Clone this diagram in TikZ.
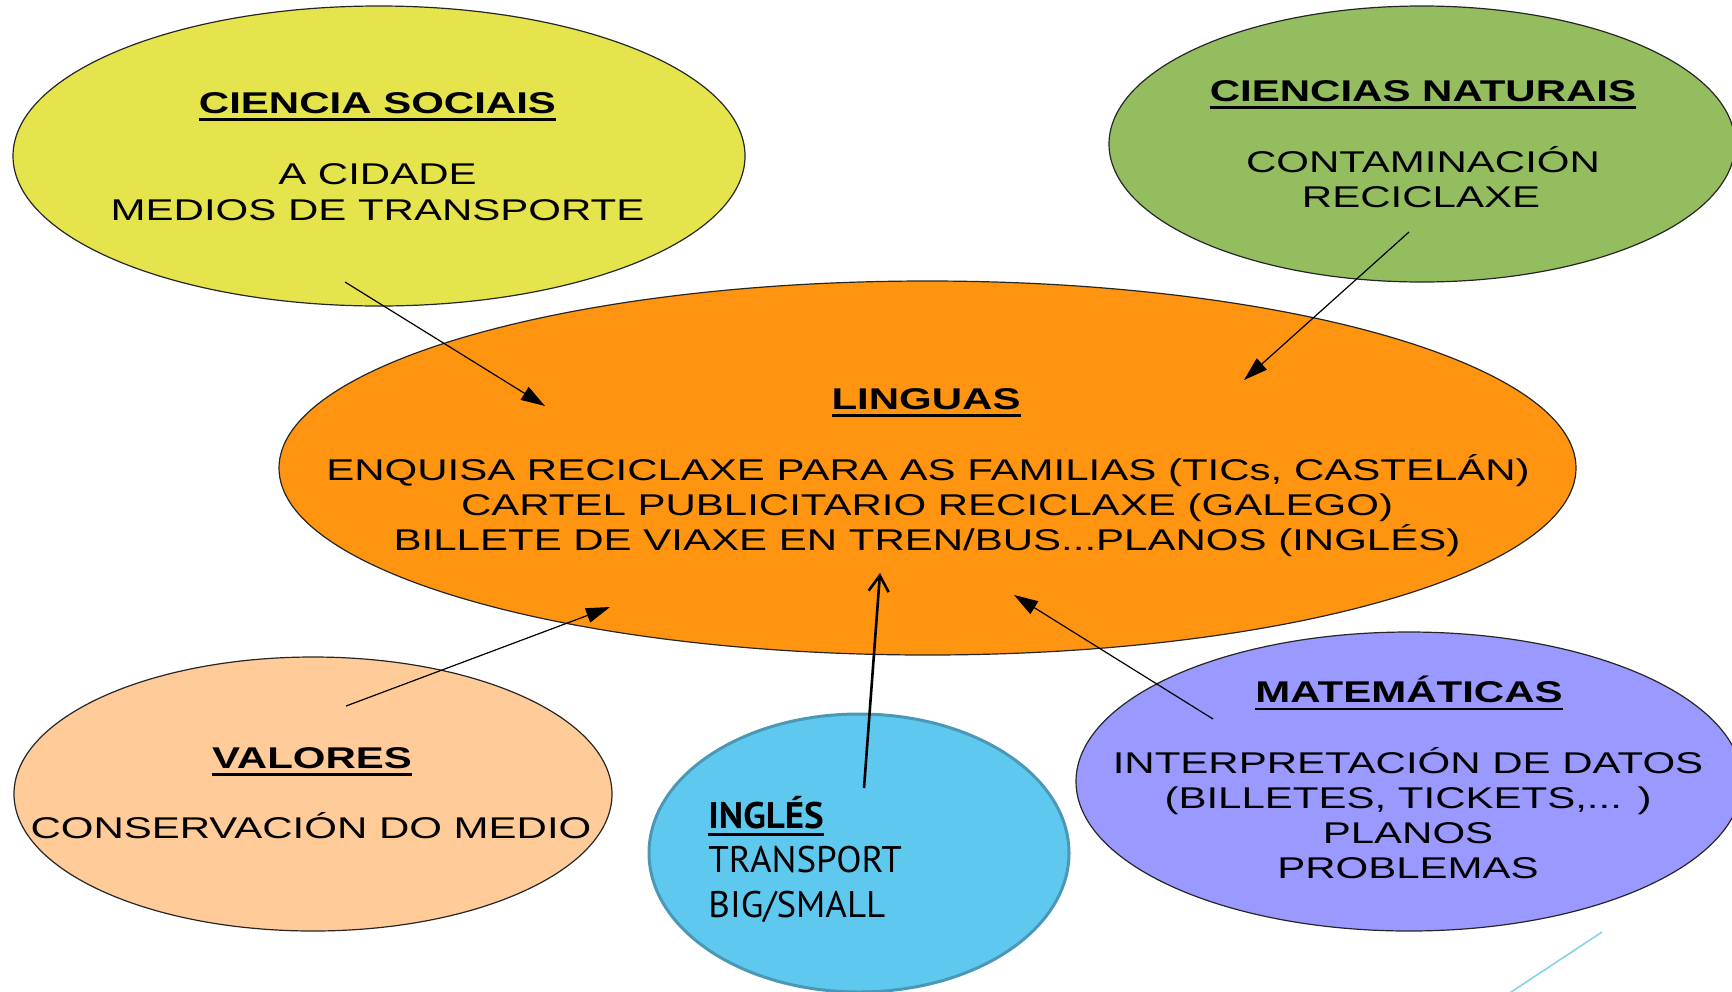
\documentclass[tikz,border=0pt]{standalone}
\usepackage{fontspec}
\usetikzlibrary{shapes.geometric,arrows.meta}
\newfontfamily\arw[FakeStretch=1.40]{Liberation Sans}
\newfontfamily\ptf{PT Sans}
\definecolor{cyel}{RGB}{230,228,76}
\definecolor{cgrn}{RGB}{147,189,95}
\definecolor{corg}{RGB}{255,148,16}
\definecolor{cpch}{RGB}{255,204,153}
\definecolor{cpur}{RGB}{153,153,255}
\definecolor{cblu}{RGB}{94,200,238}
\definecolor{cblb}{RGB}{74,152,182}
\definecolor{cdec}{RGB}{130,210,240}
\newsavebox\ulbox
\newcommand\ulx[3]{\sbox\ulbox{#3}\rlap{\raisebox{#1}{\rule{\wd\ulbox}{#2}}}\usebox\ulbox}
\tikzset{
  blob/.style={ellipse, draw=black!85, line width=0.6pt, inner sep=0pt, outer sep=0pt},
  ln/.style={anchor=base, inner sep=0pt, font=\arw\fontsize{15}{17.75}\selectfont},
  hd/.style={anchor=base, inner sep=0pt, font=\arw\bfseries\fontsize{15}{17.75}\selectfont},
  il/.style={anchor=base west, inner sep=0pt, font=\ptf\fontsize{18.5}{22.25}\selectfont},
  con/.style={line width=0.6pt, -{Triangle[length=12pt,width=7.5pt]}},
  cont/.style={line width=1.3pt, -{Straight Barb[length=8pt,width=10pt]}},
}
\begin{document}
\begin{tikzpicture}[x=0.5pt,y=-0.5pt]
\useasboundingbox (0,0) rectangle (1732,991);
\clip (0,0) rectangle (1732,991);
% ellipses
\node[blob, fill=cyel, minimum width=732pt*0.5, minimum height=300pt*0.5] (soc) at (379,156) {};
\node[blob, fill=cgrn, minimum width=626pt*0.5, minimum height=276pt*0.5] (nat) at (1422,144) {};
\node[blob, fill=corg, minimum width=1297pt*0.5, minimum height=374pt*0.5] (ling) at (927.5,468) {};
\node[blob, fill=cpch, minimum width=598pt*0.5, minimum height=274pt*0.5] (val) at (313,794) {};
\node[blob, fill=cpur, minimum width=666pt*0.5, minimum height=299pt*0.5] (mat) at (1409,781.5) {};
\node[ellipse, draw=cblb, line width=1.5pt, fill=cblu, inner sep=0pt, minimum width=420pt*0.5, minimum height=278pt*0.5] (ing) at (859,853) {};
% texts
\node[hd] (soc1) at (377.5,113) {\ulx{-3.75pt}{1.1pt}{CIENCIA SOCIAIS}};
\node[ln] (soc2) at (377.5,184.5) {A CIDADE};
\node[ln] (soc3) at (377.5,220) {MEDIOS DE TRANSPORTE};
\node[hd] (nat1) at (1423,101) {\ulx{-3.75pt}{1.1pt}{CIENCIAS NATURAIS}};
\node[ln] (nat2) at (1423,172) {CONTAMINACIÓN};
\node[ln] (nat3) at (1421,207) {RECICLAXE};
\node[hd] (ling1) at (926,409) {\ulx{-3.75pt}{1.1pt}{LINGUAS}};
\node[ln] (ling2) at (928,480) {ENQUISA RECICLAXE PARA AS FAMILIAS (TICs, CASTELÁN)};
\node[ln] (ling3) at (927,515) {CARTEL PUBLICITARIO RECICLAXE (GALEGO)};
\node[ln] (ling4) at (927,550) {BILLETE DE VIAXE EN TREN/BUS...PLANOS (INGLÉS)};
\node[hd] (val1) at (312,768) {\ulx{-3.75pt}{1.1pt}{VALORES}};
\node[ln] (val2) at (311,838.5) {CONSERVACIÓN DO MEDIO};
\node[hd] (mat1) at (1409,702.5) {\ulx{-3.75pt}{1.1pt}{MATEMÁTICAS}};
\node[ln] (mat2) at (1408,773) {INTERPRETACIÓN DE DATOS};
\node[ln] (mat3) at (1408,808) {(BILLETES, TICKETS,... )};
\node[ln] (mat4) at (1408,843) {PLANOS};
\node[ln] (mat5) at (1408,878) {PROBLEMAS};
\node[il, font=\ptf\bfseries\fontsize{18.5}{22.25}\selectfont] (ing1) at (708,828) {\ulx{-4pt}{1.5pt}{INGLÉS}};
\node[il] (ing2) at (708,872) {TRANSPORT};
\node[il] (ing3) at (708,917) {BIG/SMALL};
% connector end points
\coordinate (a1s) at (345,282);
\coordinate (a1e) at (545,406);
\coordinate (a2s) at (1409,232);
\coordinate (a2e) at (1244,380);
\coordinate (a3s) at (346,706);
\coordinate (a3e) at (610,607);
\coordinate (a4s) at (864,788);
\coordinate (a4e) at (880,573);
\coordinate (a5s) at (1213,719);
\coordinate (a5e) at (1014,595);
\draw[con] (a1s) -- (a1e);
\draw[con] (a2s) -- (a2e);
\draw[con] (a3s) -- (a3e);
\draw[cont] (a4s) -- (a4e);
\draw[con] (a5s) -- (a5e);
% decorative line
\coordinate (d1) at (1602,932);
\coordinate (d2) at (1508,994);
\draw[cdec, line width=0.8pt] (d1) -- (d2);
\end{tikzpicture}
\end{document}
